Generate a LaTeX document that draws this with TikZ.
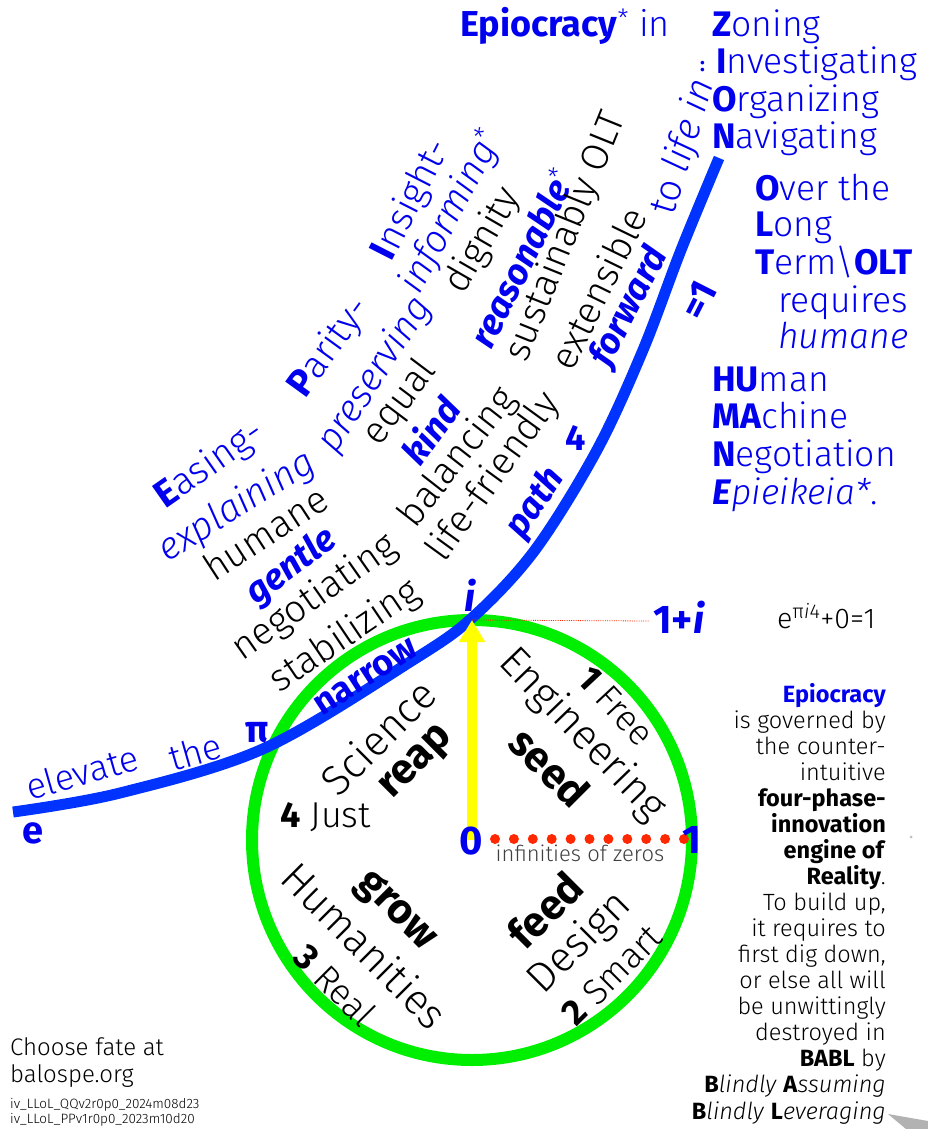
\documentclass[tikz,border=0pt]{standalone}
\usepackage{fontspec}
\setmainfont{Fira Sans Light}[BoldFont={Fira Sans Bold},ItalicFont={Fira Sans Light Italic},BoldItalicFont={Fira Sans Bold Italic}]
\usetikzlibrary{arrows.meta}
\definecolor{txtblue}{RGB}{0,0,238}
\definecolor{curveblue}{RGB}{0,51,255}
\definecolor{ringgreen}{RGB}{0,238,0}
\definecolor{arrowyellow}{RGB}{255,255,0}
\definecolor{dotred}{RGB}{255,40,0}
\tikzset{%
    lbl/.style={inner sep=0pt, font=\fontsize{#1}{#1}\selectfont},
    lbl/.default=34,
    blu/.style={text=txtblue},
    line/.style={lbl=#1, anchor=base west, blu},
    line/.default=35.5
}

\begin{document}
\begin{tikzpicture}[x=1pt,y=-1pt]
    \useasboundingbox (0,0) rectangle (928,1129);
    \fill[white] (0,0) rectangle (928,1129);
%-----------------------------------------------
    \coordinate (ctr) at (472,840);
    \coordinate (top) at (472,620);
    \coordinate (rim) at (690,839);
    \coordinate (dotA) at (495,839);
    \coordinate (ptE) at (13,812);
    \coordinate (ptTop) at (719,158);
    \coordinate (ptOnei) at (650,621);
%-----------------------------------------------
    \draw[ringgreen,line width=12pt] (ctr) circle (220);
    \draw[curveblue,line width=11pt] plot[smooth,tension=0.55] coordinates
        {(ptE) (120,793) (265,748) (413,660) (473,617) (535,550)
         (597,450) (643,350) (681,250) (ptTop)};
    \draw[-{Triangle[width=25pt,length=22pt]},line width=10pt,arrowyellow] (ctr) -- (top);
    \draw[dotred,line width=10pt,line cap=round,dash pattern=on 0pt off 18.9pt] (dotA) -- (rim);
    \draw[dotred,densely dotted,line width=0.8pt] (top) -- (ptOnei);
%-----------------------------------------------
    \node[lbl=38,blu] (lblE) at (33,833) {\textbf{e}};
    \node[lbl=36,blu,rotate=16] (elevate) at (82,772) {elevate};
    \node[lbl=36,blu,rotate=16] (the) at (195,752) {the};
    \node[lbl=38,blu] (lblPi) at (257,733) {\textbf{π}};
    \node[lbl=36,blu,rotate=33] (narrow) at (366,677) {\textbf{narrow}};
    \node[lbl=40,blu] (lblI) at (470,595) {\textbf{\textit{i}}};
    \node[lbl=40,blu] (zero) at (471,841) {\textbf{0}};
    \node[lbl=40,blu] (one) at (692,840) {\textbf{1}};
    \node[lbl=40,blu,anchor=base west] (onei) at (653,633) {\textbf{1+\textit{i}}};
    \node[lbl=28.5,anchor=base west] (euler) at (777,628) {e\textsuperscript{π\textit{i}4}+0=1};
    \node[lbl=22,text=black!75] (zeros) at (580,853) {infinities of zeros};
%-----------------------------------------------
    \node[lbl=42,rotate=45] (science) at (378,737) {Science};
    \node[lbl=42,rotate=45] (reap) at (418,764) {\textbf{reap}};
    \node[lbl=36,anchor=base west] (just) at (280,827) {\textbf{4} Just};
    \node[lbl=42,rotate=-46] (engin) at (582,735) {Engineering};
    \node[lbl=36,rotate=-47] (free) at (616,706) {\textbf{1} Free};
    \node[lbl=42,rotate=-45] (seed) at (550,767) {\textbf{seed}};
    \node[lbl=42,rotate=-45] (grow) at (395,912) {\textbf{grow}};
    \node[lbl=42,rotate=-45] (human) at (365,945) {Humanities};
    \node[lbl=36,rotate=-45] (real) at (335,985) {\textbf{3} Real};
    \node[lbl=42,rotate=45] (feed) at (545,910) {\textbf{feed}};
    \node[lbl=42,rotate=45] (design) at (580,943) {Design};
    \node[lbl=36,rotate=45] (smart) at (612,975) {\textbf{2} Smart};
%-----------------------------------------------
    \node[lbl=38,blu,rotate=35] (easing) at (210,465) {\textbf{E}asing-};
    \node[lbl=38,blu,rotate=32] (explain) at (237,507) {\textit{explaining}};
    \node[lbl=38,rotate=33] (humane) at (265,533) {humane};
    \node[lbl=36,blu,rotate=37] (gentle) at (292,567) {\textbf{\textit{gentle}}};
    \node[lbl=38,rotate=35] (negot) at (315,598) {negotiating};
    \node[lbl=38,rotate=34] (stabil) at (345,637) {stabilizing};
    \node[lbl=38,blu,rotate=54] (parity) at (330,348) {\textbf{P}arity-};
    \node[lbl=38,blu,rotate=57] (preserv) at (375,375) {\textit{preserving}};
    \node[lbl=38,rotate=53] (equal) at (400,403) {equal};
    \node[lbl=36,blu,rotate=54] (kind) at (430,430) {\textbf{\textit{kind}}};
    \node[lbl=38,rotate=52] (balanc) at (458,458) {balancing};
    \node[lbl=38,rotate=54] (lifefr) at (494,477) {life-friendly};
    \node[lbl=36,blu,rotate=56] (path) at (536,503) {\textbf{\textit{path}}};
    \node[lbl=36,blu] (four) at (576,438) {\textbf{4}};
    \node[lbl=38,blu,rotate=63] (insight) at (412,200) {\textbf{I}nsight-};
    \node[lbl=38,blu,rotate=62] (inform) at (452,212) {\textit{informing}\textsuperscript{*}};
    \node[lbl=38,rotate=60] (dignity) at (483,241) {dignity};
    \node[lbl=36,blu,rotate=64] (reason) at (522,258) {\textbf{\textit{reasonable}}\textsuperscript{*}};
    \node[lbl=38,rotate=68] (sustain) at (566,237) {sustainably OLT};
    \node[lbl=38,rotate=64] (extens) at (598,288) {extensible};
    \node[lbl=36,blu,rotate=63] (forward) at (630,307) {\textbf{\textit{forward}}};
    \node[lbl=38,blu,rotate=73] (tolife) at (684,147) {to \textit{life in}};
    \node[lbl=38,blu,rotate=63] (eqone) at (699,300) {\textbf{=1}};
%-----------------------------------------------
    \node[line=36] (epioc) at (460,37) {\textbf{Epiocracy}\textsuperscript{*} in};
    \node[line] (zoning) at (712,37) {\textbf{Z}oning};
    \node[line=20] (colon) at (700,72) {\textbf{:}};
    \node[line] (invest) at (716,74) {\textbf{I}nvestigating};
    \node[line] (organ) at (712,112) {\textbf{O}rganizing};
    \node[line] (navig) at (712,148) {\textbf{N}avigating};
    \node[line] (over) at (755,200) {\textbf{O}ver the};
    \node[line] (long) at (755,236) {\textbf{L}ong};
    \node[line] (term) at (755,274) {\textbf{T}erm\textbackslash\textbf{OLT}};
    \node[line] (requir) at (778,312) {requires};
    \node[line] (humn) at (778,348) {\textit{humane}};
    \node[line] (huma) at (712,391) {\textbf{HU}man};
    \node[line] (mach) at (712,428) {\textbf{MA}chine};
    \node[line] (negoti) at (712,466) {\textbf{N}egotiation};
    \node[line] (epiei) at (712,504) {\textbf{\textit{E}}\textit{pieikeia*}.};
%-----------------------------------------------
    \node[lbl=23.5,anchor=base east,align=right,
          font=\fontsize{23.5}{26.06}\selectfont] (engine) at (886,1119)
        {\textcolor{txtblue}{\textbf{Epiocracy}}\\ is governed by\\ the counter-\\ intuitive\\
         \textbf{four-phase-}\\ \textbf{innovation}\\ \textbf{engine of}\\ \textbf{Reality}.\\
         To build up,\\ it requires to\\ first dig down,\\ or else all will\\ be unwittingly\\
         destroyed in\\ \textbf{BABL} by\\ \textbf{B}\textit{lindly} \textbf{A}\textit{ssuming}\\
         \textbf{B}\textit{lindly} \textbf{L}\textit{everaging}};
%-----------------------------------------------
    \node[lbl=24,anchor=base west] (choose) at (10,1055) {Choose fate at};
    \node[lbl=24,anchor=base west] (balospe) at (10,1082) {balospe.org};
    \node[lbl=13.5,anchor=base west] (verQ) at (10,1108) {iv\_LLoL\_QQv2r0p0\_2024m08d23};
    \node[lbl=13.5,anchor=base west] (verP) at (10,1123) {iv\_LLoL\_PPv1r0p0\_2023m10d20};
%-----------------------------------------------
    \fill[gray!60] (888,1114) -- (928,1121) -- (928,1129) -- (906,1129) -- cycle;
    \fill[gray!50] (911,837) circle (1.5);
\end{tikzpicture}
\end{document}
